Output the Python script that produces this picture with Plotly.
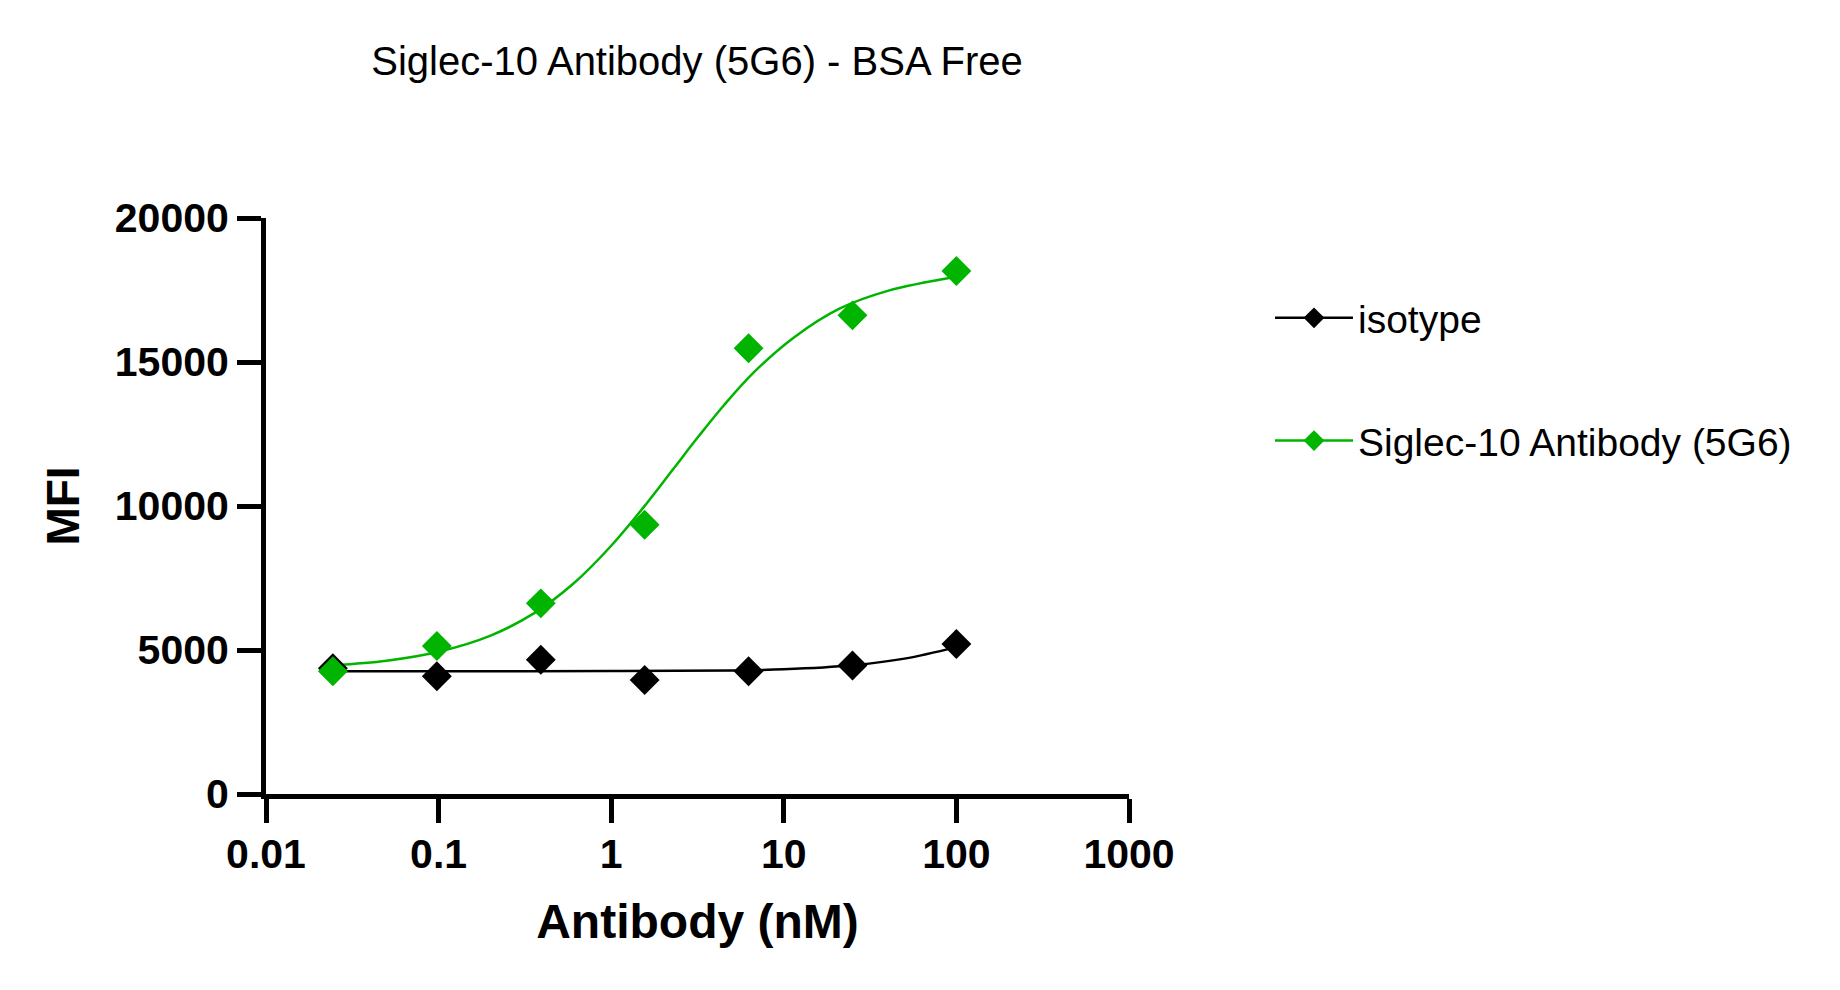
import plotly.graph_objects as go

# ---- data ----
conc = [0.0244, 0.0977, 0.391, 1.5625, 6.25, 25, 100]
isotype_mfi = [4370, 4090, 4660, 3960, 4260, 4460, 5210]
siglec_mfi = [4260, 5140, 6620, 9350, 15480, 16620, 18160]

# fitted curves
siglec_fit_conc = [0.0244, 0.05, 0.1, 0.2, 0.36, 0.6, 1.0, 1.6, 2.3, 3.2, 4.5, 6.7, 11.5, 21, 40, 100]
siglec_fit = [4470, 4630, 4940, 5500, 6290, 7290, 8620, 10080, 11300, 12410, 13500, 14640, 15860, 16850, 17470, 17960]
iso_fit_conc = [0.0244, 0.1, 1, 5, 10, 25, 50, 100]
iso_fit = [4260, 4260, 4270, 4290, 4330, 4470, 4700, 5100]

x_tickvals = [0.01, 0.1, 1, 10, 100, 1000]
x_ticktext = ["0.01", "0.1", "1", "10", "100", "1000"]
y_tickvals = [0, 5000, 10000, 15000, 20000]
y_ticktext = ["0", "5000", "10000", "15000", "20000"]

series_names = ["isotype", "Siglec-10 Antibody (5G6)"]

BLACK = "#000000"
GREEN = "#00B400"
FONT = "Liberation Sans, Arial, sans-serif"

fig = go.Figure()

# fitted curves
fig.add_trace(go.Scatter(x=iso_fit_conc, y=iso_fit, mode="lines", line=dict(color=BLACK, width=2.5, shape="spline"),
                         showlegend=False, hoverinfo="skip"))
fig.add_trace(go.Scatter(x=siglec_fit_conc, y=siglec_fit, mode="lines", line=dict(color=GREEN, width=2.5, shape="spline"),
                         showlegend=False, hoverinfo="skip"))
# data points
fig.add_trace(go.Scatter(x=conc, y=isotype_mfi, mode="markers",
                         marker=dict(symbol="diamond", size=23, color=BLACK, line=dict(width=0)),
                         showlegend=False))
fig.add_trace(go.Scatter(x=conc, y=siglec_mfi, mode="markers",
                         marker=dict(symbol="diamond", size=23, color=GREEN, line=dict(width=0)),
                         showlegend=False))
# legend entries
for name, col, grp in [(series_names[0], BLACK, "a"), (series_names[1], GREEN, "b")]:
    fig.add_trace(go.Scatter(x=[None], y=[None], mode="lines+markers", name=name, legendgroup=grp,
                             line=dict(color=col, width=2.5),
                             marker=dict(symbol="diamond", size=16, color=col)))

fig.update_layout(
    width=1840, height=990,
    margin=dict(l=266, r=711, t=218, b=196, autoexpand=False),
    plot_bgcolor="white", paper_bgcolor="white",
    title=dict(text="Siglec-10 Antibody (5G6) - BSA Free", x=697 / 1840, xanchor="center", xref="container",
               y=1 - 61 / 990, yanchor="middle", yref="container",
               font=dict(family=FONT, size=40, color="black")),
    legend=dict(xref="container", yref="container", x=1270 / 1840, y=1 - 286 / 990, xanchor="left", yanchor="top",
                font=dict(family=FONT, size=39, color="black"), itemwidth=78,
                tracegroupgap=69, traceorder="grouped", bgcolor="rgba(0,0,0,0)"),
    xaxis=dict(type="log", range=[-2, 3], tickvals=x_tickvals, ticktext=x_ticktext,
               showline=True, linecolor="black", linewidth=5, ticks="outside", ticklen=24, tickwidth=5,
               tickcolor="black", showgrid=False, zeroline=False, ticklabelstandoff=-4,
               tickfont=dict(family=FONT, size=41, color="black", weight="bold"),
               title=dict(text="Antibody (nM)", standoff=30,
                          font=dict(family=FONT, size=48, color="black", weight="bold"))),
    yaxis=dict(range=[0, 20000], tickvals=y_tickvals, ticktext=y_ticktext,
               showline=True, linecolor="black", linewidth=5, ticks="outside", ticklen=24, tickwidth=5,
               tickcolor="black", showgrid=False, zeroline=False,
               tickfont=dict(family=FONT, size=41, color="black", weight="bold"),
               title=dict(text="MFI", standoff=22,
                          font=dict(family=FONT, size=46, color="black", weight="bold"))),
)

fig.write_html("out.html")
